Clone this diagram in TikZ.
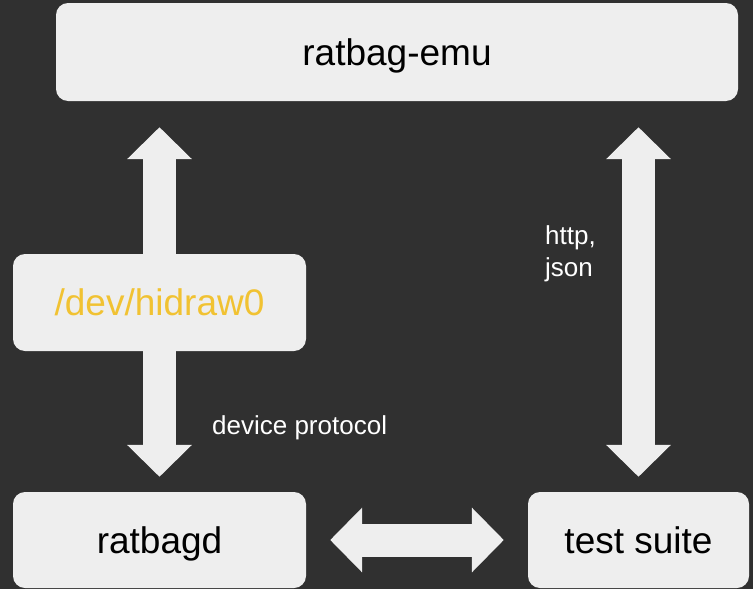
\documentclass[tikz,border=0pt]{standalone}
\usepackage{fontspec}
\setmainfont{Liberation Sans}
\usetikzlibrary{arrows.meta}
\usepackage{xcolor}
\definecolor{slide}{HTML}{303030}
\definecolor{boxfill}{HTML}{EEEEEE}
\definecolor{devyellow}{HTML}{F1C232}

\begin{document}
\begin{tikzpicture}[x=1pt,y=-1pt,
  box/.style={fill=boxfill, rounded corners=12pt, inner sep=0pt, text=black,
    text height=26.5pt, text depth=0pt, font=\fontsize{37}{44}\selectfont},
  note/.style={text=white, inner sep=0pt, align=left, font=\fontsize{26}{32}\selectfont},
  bigtip/.tip={Triangle[width=63pt,length=32pt]},
  blockarrow/.style={draw=boxfill, line width=33pt, -bigtip},
  dblockarrow/.style={blockarrow, bigtip-bigtip}]

  \fill[slide] (0,0) rectangle (753,589);

%  Boxes
  \node[box, minimum width=682pt, minimum height=98pt] (emu) at (397,52) {ratbag-emu};
  \node[box, minimum width=293pt, minimum height=97pt] (hidraw) at (159.5,302.5) {\textcolor{devyellow}{/dev/hidraw0}};
  \node[box, minimum width=293pt, minimum height=96pt] (ratbagd) at (159.5,540) {ratbagd};
  \node[box, minimum width=221pt, minimum height=96pt] (tsuite) at (638.5,540) {test suite};

%  Arrows
  \draw[blockarrow, shorten >=26pt] (hidraw.north) -- (emu.south -| hidraw.north);
  \draw[blockarrow, shorten >=15pt] (hidraw.south) -- (ratbagd.north);
  \draw[dblockarrow, shorten <=26pt, shorten >=15pt] (emu.south -| tsuite.north) -- (tsuite.north);
  \draw[dblockarrow, shorten <=24pt, shorten >=24pt] (ratbagd.east) -- (tsuite.west);

  \node[note, anchor=base west] (proto) at (212,434) {device protocol};
  \node[note, anchor=north west] (http) at (545,225) {http,\\json};

\end{tikzpicture}
\end{document}
